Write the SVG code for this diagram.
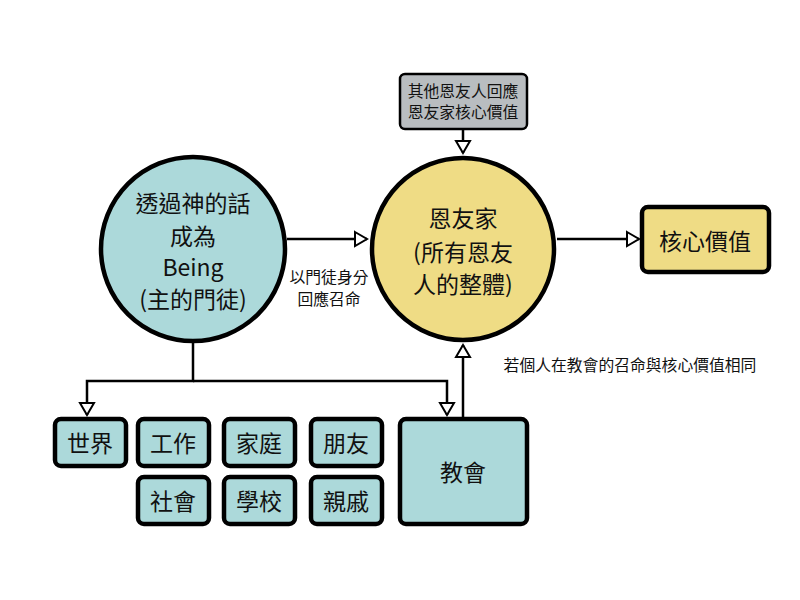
<svg xmlns="http://www.w3.org/2000/svg" width="800" height="600" viewBox="0 0 800 600">
<style>
text{font-family:"Noto Sans CJK TC","Noto Sans",sans-serif;fill:#111;text-anchor:middle;dominant-baseline:central}
.big{font-size:23px}
.sm{font-size:15.8px}
.teal{fill:#acd9da;stroke:#000;stroke-width:4.5}
.yel{fill:#efdc85;stroke:#000;stroke-width:4.5}
.gray{fill:#b9bdc0;stroke:#000;stroke-width:2.5}
.edge{fill:none;stroke:#000;stroke-width:2.5}
</style>
<defs>
<marker id="tri" markerUnits="userSpaceOnUse" markerWidth="16" markerHeight="18" viewBox="-2 -2 16 18" refX="12" refY="7" orient="auto">
<path d="M0,0 L12,7 L0,14 Z" fill="#fff" stroke="#000" stroke-width="2"/>
</marker>
</defs>
<rect width="800" height="600" fill="#fff"/>
<g id="connectors">
<path class="edge" d="M463,129 V153" marker-end="url(#tri)"/>
<path class="edge" d="M287,239 H367" marker-end="url(#tri)"/>
<path class="edge" d="M557,239 H639" marker-end="url(#tri)"/>
<path class="edge" d="M193,342 V381 H87 V415" marker-end="url(#tri)"/>
<path class="edge" d="M193,381 H447 V415" marker-end="url(#tri)"/>
<path class="edge" d="M463,417 V345" marker-end="url(#tri)"/>
<text class="sm" x="329" y="276">以門徒身分</text>
<text class="sm" x="329" y="298">回應召命</text>
<text class="sm" x="630" y="364">若個人在教會的召命與核心價值相同</text>
</g>
<g id="top">
<rect class="gray" x="400" y="74" width="127" height="55" rx="5"/>
<text class="sm" x="463" y="90">其他恩友人回應</text>
<text class="sm" x="463" y="111">恩友家核心價值</text>
</g>
<g id="being">
<circle class="teal" cx="193" cy="249" r="92"/>
<text class="big" x="193" y="202">透過神的話</text>
<text class="big" x="193" y="235">成為</text>
<text class="big" x="193" y="266">Being</text>
<text class="big" x="193" y="298">(主的門徒)</text>
</g>
<g id="enyoujia">
<circle class="yel" cx="463" cy="249" r="91"/>
<text class="big" x="463" y="217">恩友家</text>
<text class="big" x="463" y="251">(所有恩友</text>
<text class="big" x="463" y="283">人的整體)</text>
</g>
<g id="core">
<rect class="yel" x="642" y="207" width="127" height="65" rx="6"/>
<text class="big" x="705" y="240">核心價值</text>
</g>
<g id="world">
<rect class="teal" x="55" y="419" width="71" height="47" rx="6"/>
<text class="big" x="90" y="442">世界</text>
</g>
<g id="work">
<rect class="teal" x="138" y="419" width="71" height="47" rx="6"/>
<text class="big" x="173" y="442">工作</text>
</g>
<g id="family">
<rect class="teal" x="224" y="419" width="71" height="47" rx="6"/>
<text class="big" x="259" y="442">家庭</text>
</g>
<g id="friends">
<rect class="teal" x="311" y="419" width="71" height="47" rx="6"/>
<text class="big" x="346" y="442">朋友</text>
</g>
<g id="society">
<rect class="teal" x="138" y="477" width="71" height="47" rx="6"/>
<text class="big" x="173" y="500">社會</text>
</g>
<g id="school">
<rect class="teal" x="224" y="477" width="71" height="47" rx="6"/>
<text class="big" x="259" y="500">學校</text>
</g>
<g id="relatives">
<rect class="teal" x="311" y="477" width="71" height="47" rx="6"/>
<text class="big" x="346" y="500">親戚</text>
</g>
<g id="church">
<rect class="teal" x="400" y="419" width="127" height="105" rx="6"/>
<text class="big" x="463" y="471">教會</text>
</g>
</svg>
